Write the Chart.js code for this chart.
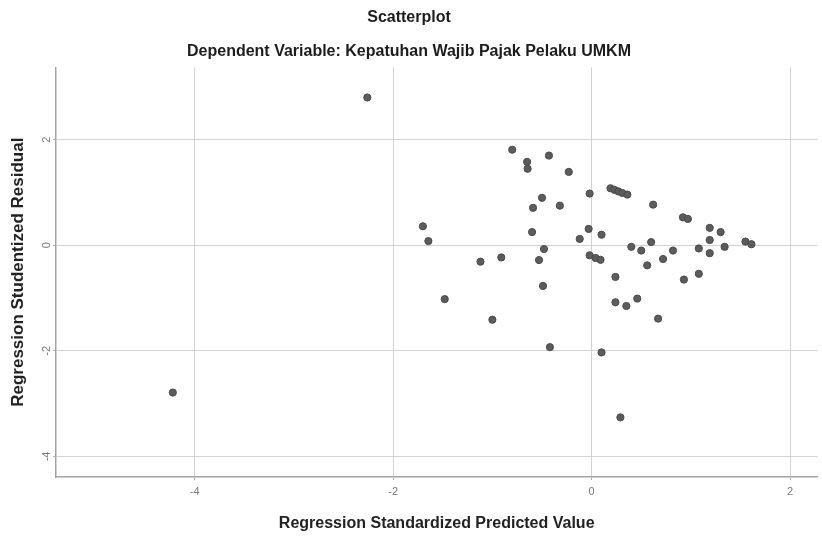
<!DOCTYPE html>
<html>
<head>
<meta charset="utf-8">
<script src="https://cdn.jsdelivr.net/npm/chart.js@4/dist/chart.umd.min.js"></script>
<style>
html, body { margin: 0; padding: 0; background: #ffffff; }
#wrap { width: 822px; height: 538px; }
</style>
</head>
<body>
<div id="wrap"><canvas id="c" width="822" height="538"></canvas></div>
<script>
const chartTitle = 'Scatterplot';
const chartSubtitle = 'Dependent Variable: Kepatuhan Wajib Pajak Pelaku UMKM';
const xAxisTitle = 'Regression Standardized Predicted Value';
const yAxisTitle = 'Regression Studentized Residual';

const xTickValues = [-4, -2, 0, 2];
const yTickValues = [-4, -2, 0, 2];

const predictedValues = [
  -4.22, -2.26, -1.70, -1.645, -1.48, -1.12, -1.00, -0.91, -0.80, -0.65,
  -0.645, -0.60, -0.59, -0.53, -0.50, -0.49, -0.48, -0.43, -0.42, -0.32,
  -0.23, -0.12, -0.03, -0.02, -0.02, 0.04, 0.09, 0.10, 0.10, 0.19,
  0.23, 0.27, 0.31, 0.36, 0.24, 0.24, 0.29, 0.35, 0.40, 0.46,
  0.50, 0.56, 0.60, 0.62, 0.67, 0.72, 0.82, 0.92, 0.97, 0.93,
  1.08, 1.08, 1.19, 1.19, 1.19, 1.30, 1.34, 1.55, 1.61
];
const residualValues = [
  -2.79, 2.80, 0.36, 0.08, -1.02, -0.31, -1.41, -0.23, 1.81, 1.58,
  1.45, 0.25, 0.71, -0.28, 0.90, -0.77, -0.07, 1.70, -1.93, 0.75,
  1.39, 0.12, 0.31, 0.98, -0.19, -0.24, -0.275, 0.20, -2.03, 1.08,
  1.05, 1.02, 0.99, 0.96, -0.60, -1.08, -3.26, -1.15, -0.03, -1.01,
  -0.10, -0.38, 0.06, 0.77, -1.39, -0.26, -0.10, 0.53, 0.50, -0.65,
  -0.06, -0.54, 0.33, 0.10, -0.15, 0.25, -0.03, 0.07, 0.02
];

const xRange = [-5.397, 2.275];
const yRange = [-4.39, 3.37];

const points = predictedValues.map((x, i) => ({ x: x, y: residualValues[i] }));
const FONT = '"Liberation Sans", Arial, sans-serif';

new Chart(document.getElementById('c'), {
  type: 'scatter',
  data: {
    datasets: [{
      data: points,
      backgroundColor: '#5c5c5c',
      borderColor: '#4a4a4a',
      borderWidth: 1,
      pointRadius: 3.6,
      pointHoverRadius: 3.6
    }]
  },
  options: {
    responsive: false,
    animation: false,
    devicePixelRatio: 1,
    layout: { padding: { left: 0, right: 4, top: 0, bottom: 0 } },
    plugins: {
      legend: { display: false },
      tooltip: { enabled: false },
      title: {
        display: true,
        text: chartTitle,
        color: '#1c1c1c',
        font: { family: FONT, size: 16, weight: 'bold' },
        padding: { top: 8, bottom: 0 }
      },
      subtitle: {
        display: true,
        text: chartSubtitle,
        color: '#1c1c1c',
        font: { family: FONT, size: 16, weight: 'bold' },
        padding: { top: 15, bottom: 6 }
      }
    },
    scales: {
      x: {
        type: 'linear',
        min: xRange[0],
        max: xRange[1],
        afterBuildTicks: (s) => { s.ticks = xTickValues.map(v => ({ value: v })); },
        afterFit: (s) => { s.height = 61; },
        grid: { color: '#d2d2d2', lineWidth: 1, drawTicks: true, tickLength: 3, tickColor: '#b0b0b0' },
        border: { display: true, color: '#a3a3a3', width: 1.5 },
        ticks: {
          color: '#7a7a7a',
          font: { family: FONT, size: 11 },
          padding: 5,
          maxRotation: 0,
          callback: (v) => String(v)
        },
        title: {
          display: true,
          text: xAxisTitle,
          color: '#222222',
          font: { family: FONT, size: 16, weight: 'bold' },
          padding: { top: 0, bottom: 5 }
        }
      },
      y: {
        type: 'linear',
        min: yRange[0],
        max: yRange[1],
        afterBuildTicks: (s) => { s.ticks = yTickValues.map(v => ({ value: v })); },
        afterFit: (s) => { s.width = 56; },
        grid: { color: '#d2d2d2', lineWidth: 1, drawTicks: true, tickLength: 3, tickColor: '#b0b0b0' },
        border: { display: true, color: '#a3a3a3', width: 1.5 },
        ticks: {
          color: '#7a7a7a',
          font: { family: FONT, size: 11 },
          padding: 1.5,
          minRotation: 90,
          maxRotation: 90,
          crossAlign: 'center',
          callback: (v) => String(v)
        },
        title: {
          display: true,
          text: yAxisTitle,
          color: '#222222',
          font: { family: FONT, size: 17, weight: 'bold' },
          padding: { top: 8, bottom: 0 }
        }
      }
    }
  }
});
</script>
</body>
</html>
